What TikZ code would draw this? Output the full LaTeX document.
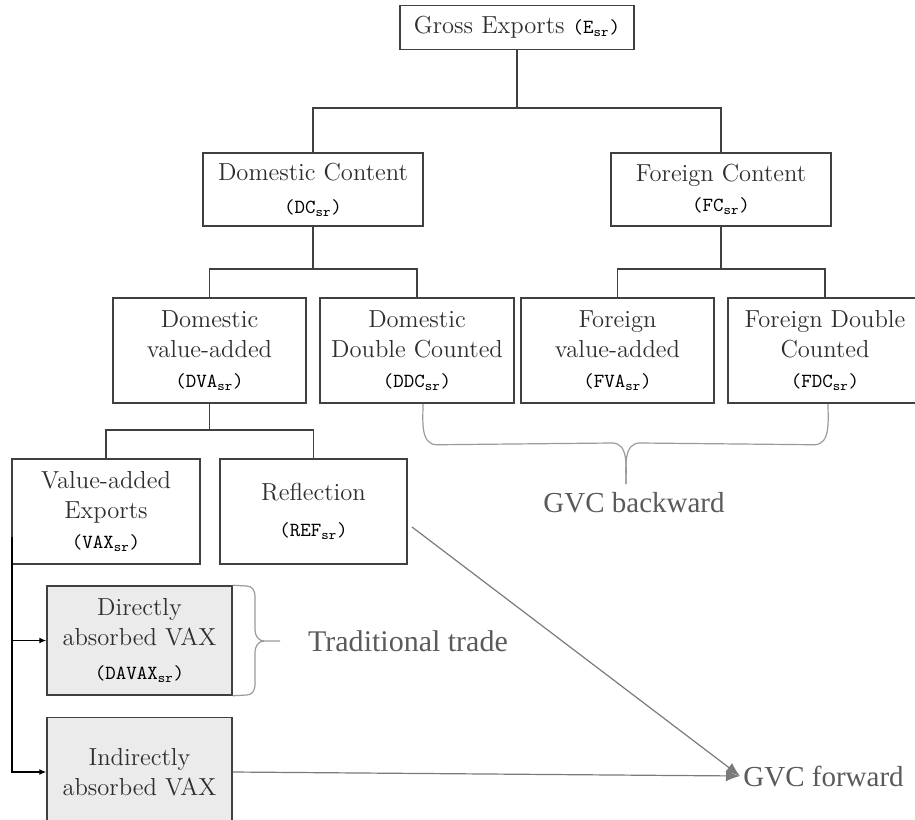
\documentclass[tikz,border=0pt]{standalone}
\usepackage{fontspec}
\usepackage{amsmath}
\usetikzlibrary{arrows.meta}
\newfontfamily\gvcfont{Liberation Serif}
\newcommand{\srterm}[1]{{\fontsize{10}{15}\selectfont\color{black}\texttt{(#1}$_{\texttt{sr}}$\texttt{)}}}

\begin{document}
\begin{tikzpicture}[x=0.5pt,y=-0.5pt,
    box/.style={draw=box_line, line width=0.75pt, align=center, inner sep=0pt,
        text=box_text, font=\fontsize{12.3}{15}\selectfont},
    shaded/.style={box, fill=box_fill},
    link/.style={draw=box_line, line width=0.75pt},
    feed/.style={draw=black, line width=0.6pt, -{Latex[length=3.5pt,width=3pt]}},
    flow/.style={draw=flow_gray, line width=0.6pt, -{Latex[length=7pt,width=5.5pt]}},
    curly/.style={draw=curly_gray, line width=0.6pt},
    note/.style={text=note_gray, font=\gvcfont\fontsize{14.5}{16}\selectfont, inner sep=1.5pt}]
    \definecolor{box_line}{HTML}{404040}
    \definecolor{box_text}{HTML}{2e2e2e}
    \definecolor{box_fill}{HTML}{ebebeb}
    \definecolor{flow_gray}{HTML}{7a7a7a}
    \definecolor{curly_gray}{HTML}{9a9a9a}
    \definecolor{note_gray}{HTML}{5a5a5a}
    %\draw[help lines] (0,0) grid (915,819);
    \useasboundingbox (0,0) rectangle (915,819);

    \node[box, minimum width=117pt, minimum height=22pt] (gross) at (517,27.5)
        {Gross Exports \srterm{E}};

    \node[box, minimum width=110pt, minimum height=36.5pt] (dc) at (313,189.5)
        {Domestic Content\\[1.5pt] \srterm{DC}};
    \node[box, minimum width=110pt, minimum height=36.5pt] (fc) at (721,189.5)
        {Foreign Content\\ \srterm{FC}};

    \node[box, minimum width=96.5pt, minimum height=52.5pt] (dva) at (209.5,350.5)
        {Domestic\\ value-added\\ \srterm{DVA}};
    \node[box, minimum width=97pt, minimum height=52.5pt] (ddc) at (417,350.5)
        {Domestic\\ Double Counted\\ \srterm{DDC}};
    \node[box, minimum width=96.5pt, minimum height=52.5pt] (fva) at (617.5,350.5)
        {Foreign\\ value-added\\ \srterm{FVA}};
    \node[box, minimum width=97pt, minimum height=52.5pt] (fdc) at (825,350.5)
        {Foreign Double\\ Counted\\ \srterm{FDC}};

    \node[box, minimum width=94pt, minimum height=52.5pt] (vax) at (106,511.5)
        {Value-added\\ Exports\\ \srterm{VAX}};
    \node[box, minimum width=93.5pt, minimum height=52.5pt] (refl) at (313.5,511.5)
        {Reflection\\[3pt] \srterm{REF}};

    \node[shaded, minimum width=92.5pt, minimum height=54.5pt] (davax) at (139.5,640.5)
        {Directly\\ absorbed VAX\\[2pt] \srterm{DAVAX}};
    \node[shaded, minimum width=92.5pt, minimum height=54.5pt] (ind) at (139.5,772)
        {Indirectly\\ absorbed VAX};

    % tree
    \coordinate (gross_j) at (517,108);
    \coordinate (dc_j) at (313,269);
    \coordinate (fc_j) at (721,269);
    \coordinate (dva_j) at (209.5,430);
    \draw[link] (gross.south) -- (gross_j);
    \draw[link] (dc.north) |- (gross_j) -| (fc.north);
    \draw[link] (dc.south) -- (dc_j);
    \draw[link] (dva.north) |- (dc_j) -| (ddc.north);
    \draw[link] (fc.south) -- (fc_j);
    \draw[link] (fva.north) |- (fc_j) -| (fdc.north);
    \draw[link] (dva.south) -- (dva_j);
    \draw[link] (vax.north) |- (dva_j) -| (refl.north);

    % VAX split
    \coordinate (vax_split) at (12,537);
    \draw[feed] (vax_split) |- (davax.west);
    \draw[feed] (vax_split) |- (ind.west);

    % labels
    \node[note] (backward) at (634,503) {GVC backward};
    \node[note, font=\gvcfont\fontsize{15}{16}\selectfont] (traditional) at (408,641) {Traditional trade};
    \node[note, anchor=west] (forward) at (740,776) {GVC forward};

    % braces
    \coordinate (back_tip) at (626,484);
    \draw[curly] (ddc.south) ++(6,0) to[out=-90,in=180] ++(14,41) -- (612,443)
        to[out=0,in=90] (back_tip);
    \draw[curly] (fdc.south) ++(3,0) to[out=-90,in=0] ++(-14,41) -- (640,443)
        to[out=180,in=90] (back_tip);
    \coordinate (trad_tip) at (280,641);
    \draw[curly] (davax.north east) -- (247,586) to[out=0,in=90] (255,596) -- (255,630)
        to[out=-90,in=180] (264,641) -- (trad_tip);
    \draw[curly] (davax.south east) -- (247,695) to[out=0,in=-90] (255,685) -- (255,652)
        to[out=90,in=180] (264,641);

    % forward links
    \coordinate (refl_out) at (412,527);
    \draw[flow] (refl_out) -- (forward.west);
    \draw[flow] (ind.east) -- (forward.west);
\end{tikzpicture}
\end{document}
